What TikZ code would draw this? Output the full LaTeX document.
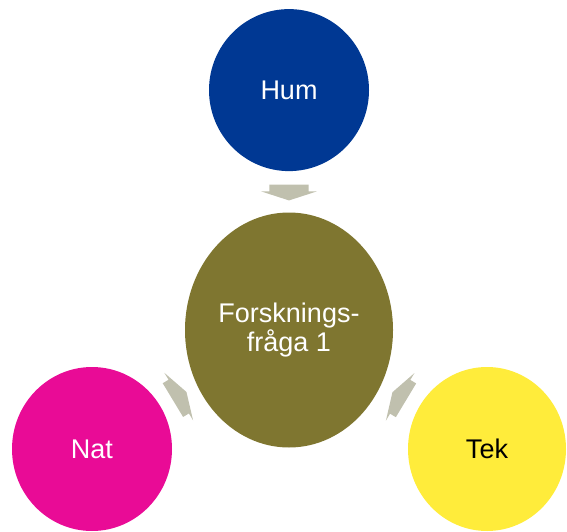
\documentclass[tikz,border=0pt]{standalone}
\usepackage{fontspec}
\setmainfont{Liberation Sans}
\usetikzlibrary{shapes,shapes.geometric,shapes.arrows,calc,positioning}
\definecolor{humblue}{RGB}{0,56,147}
\definecolor{qolive}{RGB}{127,118,48}
\definecolor{natpink}{RGB}{233,11,150}
\definecolor{tekyellow}{RGB}{255,236,59}
\definecolor{flowgray}{RGB}{192,192,174}

\begin{document}
\begin{tikzpicture}[
    x=1pt,y=1pt,
    disc/.style={ellipse,inner sep=0pt,text=white,font=\fontsize{27}{27}\selectfont},
    flow/.style={single arrow,fill=flowgray,draw=none,minimum height=0pt,minimum width=0pt,
      inner xsep=4.5pt,inner ysep=19.5pt,single arrow head extend=8pt,single arrow tip angle=144,
      sloped,allow upside down,pos=0.44}]
    \useasboundingbox (0,0) rectangle (567,-532);
    \node[disc,fill=qolive,minimum width=208pt,minimum height=235pt,align=center] (Q) at (289,-330) {Forsknings-\\fråga 1};
    \node[disc,fill=humblue,minimum width=160pt,minimum height=162pt] (Hum) [above=41pt of Q] {Hum};
    \node[disc,fill=natpink,minimum width=160pt,minimum height=164pt] (Nat) at ($(Q)+(-197,-119)$) {Nat};
    \node[disc,fill=tekyellow,text=black,minimum width=158pt,minimum height=164pt] (Tek) at ($(Q)+(198,-119)$) {Tek};

    \path (Hum) -- (Q) node[flow] {};
    \path (Nat) -- (Q) node[flow] {};
    \path (Tek) -- (Q) node[flow] {};
  \end{tikzpicture}
\end{document}
